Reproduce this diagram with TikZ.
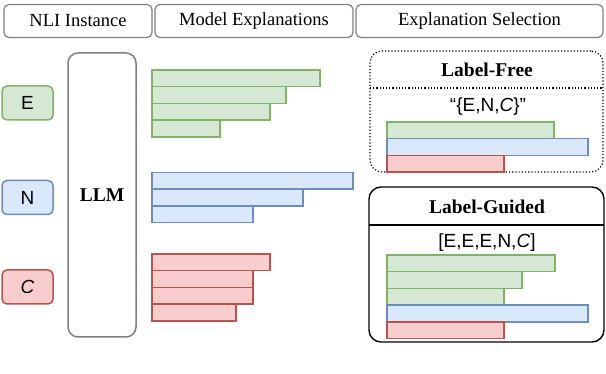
\documentclass[tikz,border=0pt]{standalone}
\usepackage{fontspec}
\setmainfont{Liberation Serif}
\newfontfamily\tagfont{Liberation Sans}
\usetikzlibrary{positioning}
\definecolor{hdrgray}{HTML}{7F7F7F}
\definecolor{efill}{HTML}{D5E8D4}
\definecolor{eline}{HTML}{82B366}
\definecolor{nfill}{HTML}{DAE8FC}
\definecolor{nline}{HTML}{6C8EBF}
\definecolor{cfill}{HTML}{F8CECC}
\definecolor{cline}{HTML}{B85450}
\tikzset{
  header/.style={draw=hdrgray, line width=1.2pt, rounded corners=5pt, minimum height=33pt, outer sep=0pt, font=\fontsize{18.5}{20}\selectfont},
  tagbox/.style={line width=1.5pt, rounded corners=5pt, minimum width=51pt, minimum height=34pt, outer sep=0pt, font=\tagfont\fontsize{19}{21}\selectfont},
  bar/.style={anchor=north west, minimum height=16.7pt, inner sep=0pt, outer sep=0pt, line width=1.6pt},
  ebar/.style={bar, draw=eline, fill=efill},
  nbar/.style={bar, draw=nline, fill=nfill},
  cbar/.style={bar, draw=cline, fill=cfill},
  selbox/.style={anchor=north west, rounded corners=12pt, inner sep=0pt, outer sep=0pt},
  seltitle/.style={font=\bfseries\fontsize{19.5}{21}\selectfont},
  labelseq/.style={font=\tagfont\fontsize{19}{21}\selectfont}
}

\begin{document}
\begin{tikzpicture}[x=1pt, y=-1pt]
  \useasboundingbox (0,0) rectangle (606,374);

  % headers
  \node[header, minimum width=148pt] (h1) at (78,21) {NLI Instance};
  \node[header, minimum width=198pt] (h2) at (254,21) {Model Explanations};
  \node[header, minimum width=247pt] (h3) at (479.5,21) {Explanation Selection};

  % instance labels and model
  \node[tagbox, draw=eline, fill=efill] (tagE) at (27.5,103) {E};
  \node[tagbox, draw=nline, fill=nfill] (tagN) at (27.5,197.5) {N};
  \node[tagbox, draw=cline, fill=cfill] (tagC) at (27.5,287) {\itshape C};
  \node[draw=hdrgray, line width=1.5pt, rounded corners=10pt, minimum width=68pt, minimum height=284pt,
        font=\bfseries\fontsize{19.5}{21}\selectfont] (llm) at (102,195) {LLM};

  % explanations
  \node[ebar, minimum width=168pt] (e1) at (152,70) {};
  \node[ebar, minimum width=134pt] (e2) at (152,86.7) {};
  \node[ebar, minimum width=118pt] (e3) at (152,103.4) {};
  \node[ebar, minimum width=68pt] (e4) at (152,120.1) {};

  \node[nbar, minimum width=201pt] (n1) at (152,172.5) {};
  \node[nbar, minimum width=151pt] (n2) at (152,189.2) {};
  \node[nbar, minimum width=101pt] (n3) at (152,205.9) {};

  \node[cbar, minimum width=118pt] (c1) at (152,254) {};
  \node[cbar, minimum width=101pt] (c2) at (152,270.7) {};
  \node[cbar, minimum width=101pt] (c3) at (152,287.4) {};
  \node[cbar, minimum width=84pt] (c4) at (152,304.1) {};

  % label-free selection
  \node[selbox, draw, dotted, line width=1.2pt, minimum width=233pt, minimum height=121pt] (free) at (370,51) {};
  \coordinate (freediv) at (0,88);
  \draw[dotted, line width=1.2pt] (free.west |- freediv) -- (free.east |- freediv);
  \node[seltitle] (freetitle) at (487,70) {Label-Free};
  \node[labelseq] (freeseq) at (488,107) {“\{E,N,\textit{C}\}”};
  \node[ebar, minimum width=167pt] (fe) at (387,122) {};
  \node[nbar, minimum width=201pt] (fn) at (387,138.7) {};
  \node[cbar, minimum width=117pt] (fc) at (387,155.4) {};

  % label-guided selection
  \node[selbox, draw, line width=1.4pt, minimum width=235pt, minimum height=155pt] (guided) at (369,187) {};
  \coordinate (guideddiv) at (0,225);
  \draw[line width=1.2pt] (guided.west |- guideddiv) -- (guided.east |- guideddiv);
  \node[seltitle] (guidedtitle) at (487,207) {Label-Guided};
  \node[labelseq] (guidedseq) at (487,243) {[E,E,E,N,\textit{C}]};
  \node[ebar, minimum width=168pt] (ge1) at (387,255) {};
  \node[ebar, minimum width=135pt] (ge2) at (387,271.7) {};
  \node[ebar, minimum width=117pt] (ge3) at (387,288.4) {};
  \node[nbar, minimum width=201pt] (gn) at (387,305.1) {};
  \node[cbar, minimum width=117pt] (gc) at (387,321.8) {};
\end{tikzpicture}
\end{document}
